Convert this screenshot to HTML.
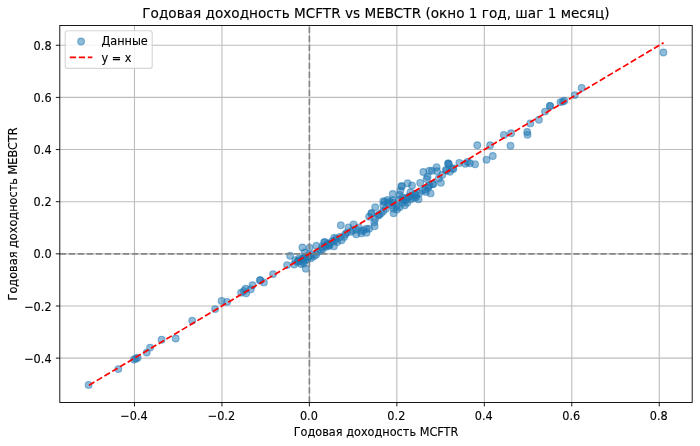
<!DOCTYPE html>
<html lang="ru"><head><meta charset="utf-8"><title>Годовая доходность MCFTR vs MEBCTR</title>
<style>html,body{margin:0;padding:0;background:#fff}svg{display:block}text{font-family:"DejaVu Sans","Liberation Sans",sans-serif;fill:#000;stroke:#000;stroke-width:0.12px}</style>
</head><body>
<svg width="700" height="446" viewBox="0 0 700 446">
<rect width="700" height="446" fill="#fff"/>
<clipPath id="ax"><rect x="59.8" y="25.45" width="632.4" height="377.0"/></clipPath>
<g stroke="#bcbcbc" stroke-width="1.1" fill="none">
<line x1="134.48" y1="25.45" x2="134.48" y2="402.45"/>
<line x1="221.94" y1="25.45" x2="221.94" y2="402.45"/>
<line x1="309.40" y1="25.45" x2="309.40" y2="402.45"/>
<line x1="396.86" y1="25.45" x2="396.86" y2="402.45"/>
<line x1="484.32" y1="25.45" x2="484.32" y2="402.45"/>
<line x1="571.78" y1="25.45" x2="571.78" y2="402.45"/>
<line x1="659.24" y1="25.45" x2="659.24" y2="402.45"/>
<line x1="59.8" y1="358.11" x2="692.2" y2="358.11"/>
<line x1="59.8" y1="305.97" x2="692.2" y2="305.97"/>
<line x1="59.8" y1="253.83" x2="692.2" y2="253.83"/>
<line x1="59.8" y1="201.69" x2="692.2" y2="201.69"/>
<line x1="59.8" y1="149.55" x2="692.2" y2="149.55"/>
<line x1="59.8" y1="97.41" x2="692.2" y2="97.41"/>
<line x1="59.8" y1="45.27" x2="692.2" y2="45.27"/>
</g>
<g clip-path="url(#ax)" fill="#1f77b4" fill-opacity="0.5" stroke="#1f77b4" stroke-opacity="0.5" stroke-width="1.13">
<circle cx="88.6" cy="384.9" r="3.39"/>
<circle cx="118.3" cy="369.1" r="3.39"/>
<circle cx="134.0" cy="359.5" r="3.39"/>
<circle cx="135.9" cy="358.7" r="3.39"/>
<circle cx="137.6" cy="357.7" r="3.39"/>
<circle cx="146.7" cy="352.6" r="3.39"/>
<circle cx="150.1" cy="347.6" r="3.39"/>
<circle cx="161.6" cy="339.7" r="3.39"/>
<circle cx="175.7" cy="338.5" r="3.39"/>
<circle cx="192.2" cy="320.6" r="3.39"/>
<circle cx="215.1" cy="309.1" r="3.39"/>
<circle cx="221.6" cy="300.9" r="3.39"/>
<circle cx="227.0" cy="301.9" r="3.39"/>
<circle cx="241.1" cy="292.7" r="3.39"/>
<circle cx="243.9" cy="291.0" r="3.39"/>
<circle cx="246.2" cy="293.2" r="3.39"/>
<circle cx="245.6" cy="288.7" r="3.39"/>
<circle cx="250.8" cy="289.2" r="3.39"/>
<circle cx="252.5" cy="285.2" r="3.39"/>
<circle cx="260.1" cy="280.2" r="3.39"/>
<circle cx="260.1" cy="280.2" r="3.39"/>
<circle cx="263.9" cy="282.4" r="3.39"/>
<circle cx="273.1" cy="274.1" r="3.39"/>
<circle cx="287.1" cy="265.1" r="3.39"/>
<circle cx="290.1" cy="255.8" r="3.39"/>
<circle cx="294.2" cy="264.5" r="3.39"/>
<circle cx="295.3" cy="260.1" r="3.39"/>
<circle cx="305.8" cy="268.7" r="3.39"/>
<circle cx="302.4" cy="247.5" r="3.39"/>
<circle cx="309.6" cy="247.8" r="3.39"/>
<circle cx="316.4" cy="245.8" r="3.39"/>
<circle cx="322.5" cy="249.3" r="3.39"/>
<circle cx="324.0" cy="242.5" r="3.39"/>
<circle cx="298.1" cy="261.2" r="3.39"/>
<circle cx="301.7" cy="259.8" r="3.39"/>
<circle cx="303.9" cy="263.4" r="3.39"/>
<circle cx="307.5" cy="259.1" r="3.39"/>
<circle cx="311.0" cy="258.2" r="3.39"/>
<circle cx="313.9" cy="256.2" r="3.39"/>
<circle cx="316.1" cy="254.7" r="3.39"/>
<circle cx="311.8" cy="254.7" r="3.39"/>
<circle cx="304.6" cy="252.5" r="3.39"/>
<circle cx="305.3" cy="256.9" r="3.39"/>
<circle cx="301.0" cy="264.1" r="3.39"/>
<circle cx="318.2" cy="251.8" r="3.39"/>
<circle cx="320.7" cy="250.3" r="3.39"/>
<circle cx="299.2" cy="258.4" r="3.39"/>
<circle cx="308.2" cy="255.3" r="3.39"/>
<circle cx="326.2" cy="246.8" r="3.39"/>
<circle cx="328.2" cy="244.3" r="3.39"/>
<circle cx="340.8" cy="225.3" r="3.39"/>
<circle cx="324.9" cy="242.0" r="3.39"/>
<circle cx="334.3" cy="237.8" r="3.39"/>
<circle cx="353.6" cy="224.4" r="3.39"/>
<circle cx="348.5" cy="227.4" r="3.39"/>
<circle cx="341.6" cy="240.3" r="3.39"/>
<circle cx="344.2" cy="236.9" r="3.39"/>
<circle cx="339.9" cy="236.9" r="3.39"/>
<circle cx="346.8" cy="232.7" r="3.39"/>
<circle cx="351.1" cy="231.8" r="3.39"/>
<circle cx="356.2" cy="234.3" r="3.39"/>
<circle cx="356.2" cy="229.7" r="3.39"/>
<circle cx="361.3" cy="230.9" r="3.39"/>
<circle cx="361.3" cy="233.4" r="3.39"/>
<circle cx="366.5" cy="232.7" r="3.39"/>
<circle cx="366.5" cy="228.8" r="3.39"/>
<circle cx="369.1" cy="228.8" r="3.39"/>
<circle cx="358.8" cy="227.4" r="3.39"/>
<circle cx="374.6" cy="226.2" r="3.39"/>
<circle cx="374.2" cy="222.3" r="3.39"/>
<circle cx="369.1" cy="216.8" r="3.39"/>
<circle cx="371.6" cy="212.9" r="3.39"/>
<circle cx="378.5" cy="215.4" r="3.39"/>
<circle cx="375.1" cy="218.9" r="3.39"/>
<circle cx="328.8" cy="245.4" r="3.39"/>
<circle cx="333.9" cy="246.3" r="3.39"/>
<circle cx="337.3" cy="242.0" r="3.39"/>
<circle cx="375.2" cy="207.3" r="3.39"/>
<circle cx="371.3" cy="213.8" r="3.39"/>
<circle cx="383.3" cy="201.3" r="3.39"/>
<circle cx="387.6" cy="200.0" r="3.39"/>
<circle cx="392.8" cy="194.0" r="3.39"/>
<circle cx="383.3" cy="205.2" r="3.39"/>
<circle cx="392.8" cy="202.7" r="3.39"/>
<circle cx="393.6" cy="208.7" r="3.39"/>
<circle cx="393.6" cy="213.3" r="3.39"/>
<circle cx="397.0" cy="209.4" r="3.39"/>
<circle cx="401.3" cy="186.3" r="3.39"/>
<circle cx="400.5" cy="190.7" r="3.39"/>
<circle cx="399.6" cy="194.9" r="3.39"/>
<circle cx="407.6" cy="183.3" r="3.39"/>
<circle cx="412.0" cy="185.4" r="3.39"/>
<circle cx="420.2" cy="182.9" r="3.39"/>
<circle cx="404.8" cy="205.2" r="3.39"/>
<circle cx="407.3" cy="202.7" r="3.39"/>
<circle cx="403.1" cy="200.0" r="3.39"/>
<circle cx="411.6" cy="195.8" r="3.39"/>
<circle cx="415.9" cy="197.4" r="3.39"/>
<circle cx="418.5" cy="199.2" r="3.39"/>
<circle cx="415.1" cy="194.0" r="3.39"/>
<circle cx="379.1" cy="214.7" r="3.39"/>
<circle cx="385.9" cy="208.7" r="3.39"/>
<circle cx="423.3" cy="172.0" r="3.39"/>
<circle cx="427.6" cy="176.8" r="3.39"/>
<circle cx="429.3" cy="170.8" r="3.39"/>
<circle cx="431.9" cy="170.8" r="3.39"/>
<circle cx="436.6" cy="167.3" r="3.39"/>
<circle cx="437.0" cy="171.2" r="3.39"/>
<circle cx="448.2" cy="163.4" r="3.39"/>
<circle cx="448.2" cy="163.4" r="3.39"/>
<circle cx="449.0" cy="164.3" r="3.39"/>
<circle cx="459.3" cy="162.9" r="3.39"/>
<circle cx="440.9" cy="182.8" r="3.39"/>
<circle cx="432.8" cy="184.0" r="3.39"/>
<circle cx="428.5" cy="186.2" r="3.39"/>
<circle cx="425.1" cy="189.7" r="3.39"/>
<circle cx="430.6" cy="193.4" r="3.39"/>
<circle cx="438.8" cy="178.4" r="3.39"/>
<circle cx="442.2" cy="175.0" r="3.39"/>
<circle cx="446.5" cy="170.8" r="3.39"/>
<circle cx="449.9" cy="171.7" r="3.39"/>
<circle cx="453.3" cy="169.0" r="3.39"/>
<circle cx="410.5" cy="192.2" r="3.39"/>
<circle cx="401.9" cy="186.2" r="3.39"/>
<circle cx="445.9" cy="170.0" r="3.39"/>
<circle cx="452.8" cy="168.3" r="3.39"/>
<circle cx="465.3" cy="163.8" r="3.39"/>
<circle cx="467.6" cy="162.0" r="3.39"/>
<circle cx="469.9" cy="163.2" r="3.39"/>
<circle cx="475.1" cy="164.3" r="3.39"/>
<circle cx="477.3" cy="145.2" r="3.39"/>
<circle cx="486.5" cy="159.8" r="3.39"/>
<circle cx="492.8" cy="156.0" r="3.39"/>
<circle cx="490.1" cy="145.2" r="3.39"/>
<circle cx="503.9" cy="134.9" r="3.39"/>
<circle cx="511.1" cy="133.2" r="3.39"/>
<circle cx="510.5" cy="145.8" r="3.39"/>
<circle cx="527.2" cy="132.0" r="3.39"/>
<circle cx="527.5" cy="134.8" r="3.39"/>
<circle cx="530.3" cy="123.4" r="3.39"/>
<circle cx="538.9" cy="119.8" r="3.39"/>
<circle cx="545.0" cy="111.6" r="3.39"/>
<circle cx="550.0" cy="105.9" r="3.39"/>
<circle cx="550.0" cy="105.9" r="3.39"/>
<circle cx="560.5" cy="102.1" r="3.39"/>
<circle cx="562.9" cy="101.6" r="3.39"/>
<circle cx="564.3" cy="100.8" r="3.39"/>
<circle cx="574.8" cy="95.1" r="3.39"/>
<circle cx="581.7" cy="87.9" r="3.39"/>
<circle cx="663.4" cy="52.5" r="3.39"/>
<circle cx="406.5" cy="197.8" r="3.39"/>
<circle cx="410.9" cy="199.2" r="3.39"/>
<circle cx="413.7" cy="197.8" r="3.39"/>
<circle cx="422.3" cy="190.5" r="3.39"/>
<circle cx="425.9" cy="191.9" r="3.39"/>
<circle cx="428.1" cy="187.7" r="3.39"/>
<circle cx="429.5" cy="185.5" r="3.39"/>
<circle cx="416.2" cy="195.3" r="3.39"/>
<circle cx="419.2" cy="193.3" r="3.39"/>
<circle cx="408.7" cy="196.8" r="3.39"/>
<circle cx="352.7" cy="230.3" r="3.39"/>
<circle cx="363.7" cy="230.3" r="3.39"/>
<circle cx="345.2" cy="234.3" r="3.39"/>
<circle cx="381.1" cy="213.3" r="3.39"/>
<circle cx="383.2" cy="211.2" r="3.39"/>
<circle cx="426.6" cy="179.0" r="3.39"/>
<circle cx="433.4" cy="184.0" r="3.39"/>
<circle cx="322.2" cy="246.8" r="3.39"/>
<circle cx="325.2" cy="245.8" r="3.39"/>
<circle cx="327.7" cy="243.8" r="3.39"/>
<circle cx="330.2" cy="243.3" r="3.39"/>
<circle cx="332.2" cy="241.3" r="3.39"/>
<circle cx="334.7" cy="240.8" r="3.39"/>
<circle cx="329.2" cy="245.8" r="3.39"/>
<circle cx="336.2" cy="238.8" r="3.39"/>
<circle cx="297.2" cy="261.9" r="3.39"/>
<circle cx="299.7" cy="260.4" r="3.39"/>
<circle cx="302.2" cy="258.9" r="3.39"/>
<circle cx="304.2" cy="257.9" r="3.39"/>
<circle cx="306.7" cy="256.9" r="3.39"/>
<circle cx="303.2" cy="261.4" r="3.39"/>
<circle cx="306.2" cy="259.9" r="3.39"/>
<circle cx="309.2" cy="256.4" r="3.39"/>
<circle cx="392.8" cy="200.2" r="3.39"/>
<circle cx="392.5" cy="205.5" r="3.39"/>
<circle cx="396.8" cy="206.2" r="3.39"/>
<circle cx="399.6" cy="207.3" r="3.39"/>
<circle cx="402.5" cy="202.7" r="3.39"/>
<circle cx="398.9" cy="199.8" r="3.39"/>
<circle cx="402.5" cy="197.8" r="3.39"/>
<circle cx="405.7" cy="200.3" r="3.39"/>
<circle cx="384.7" cy="201.8" r="3.39"/>
<circle cx="388.2" cy="203.3" r="3.39"/>
<circle cx="390.2" cy="201.8" r="3.39"/>
</g>
<g stroke="#808080" stroke-opacity="0.9" stroke-width="1.70" stroke-dasharray="6.29 2.72">
<line x1="59.8" y1="253.83" x2="692.2" y2="253.83"/>
<line x1="309.40" y1="402.45" x2="309.40" y2="25.45"/>
</g>
<line x1="89.00" y1="385.22" x2="663.61" y2="42.66" stroke="#ff0000" stroke-width="1.70" stroke-dasharray="6.29 2.72"/>
<rect x="59.8" y="25.45" width="632.4" height="377.0" fill="none" stroke="#000" stroke-width="0.90"/>
<g stroke="#000" stroke-width="0.90">
<line x1="134.48" y1="402.45" x2="134.48" y2="406.41"/>
<line x1="221.94" y1="402.45" x2="221.94" y2="406.41"/>
<line x1="309.40" y1="402.45" x2="309.40" y2="406.41"/>
<line x1="396.86" y1="402.45" x2="396.86" y2="406.41"/>
<line x1="484.32" y1="402.45" x2="484.32" y2="406.41"/>
<line x1="571.78" y1="402.45" x2="571.78" y2="406.41"/>
<line x1="659.24" y1="402.45" x2="659.24" y2="406.41"/>
<line x1="59.8" y1="358.11" x2="55.84" y2="358.11"/>
<line x1="59.8" y1="305.97" x2="55.84" y2="305.97"/>
<line x1="59.8" y1="253.83" x2="55.84" y2="253.83"/>
<line x1="59.8" y1="201.69" x2="55.84" y2="201.69"/>
<line x1="59.8" y1="149.55" x2="55.84" y2="149.55"/>
<line x1="59.8" y1="97.41" x2="55.84" y2="97.41"/>
<line x1="59.8" y1="45.27" x2="55.84" y2="45.27"/>
</g>
<g font-size="11.31" text-anchor="middle">
<text transform="translate(133.98 420) scale(1 1.11)">−0.4</text>
<text transform="translate(221.44 420) scale(1 1.11)">−0.2</text>
<text transform="translate(308.90 420) scale(1 1.11)">0.0</text>
<text transform="translate(396.36 420) scale(1 1.11)">0.2</text>
<text transform="translate(483.82 420) scale(1 1.11)">0.4</text>
<text transform="translate(571.28 420) scale(1 1.11)">0.6</text>
<text transform="translate(658.74 420) scale(1 1.11)">0.8</text>
</g>
<g font-size="11.31" text-anchor="end">
<text transform="translate(51.58 362.71) scale(1 1.11)">−0.4</text>
<text transform="translate(51.58 310.57) scale(1 1.11)">−0.2</text>
<text transform="translate(51.58 258.43) scale(1 1.11)">0.0</text>
<text transform="translate(51.58 206.29) scale(1 1.11)">0.2</text>
<text transform="translate(51.58 154.15) scale(1 1.11)">0.4</text>
<text transform="translate(51.58 102.01) scale(1 1.11)">0.6</text>
<text transform="translate(51.58 49.87) scale(1 1.11)">0.8</text>
</g>
<text transform="translate(376.00 435.55) scale(1 1.11)" font-size="11.31" text-anchor="middle">Годовая доходность MCFTR</text>
<text transform="translate(17.2 213.95) rotate(-90) scale(1 1.11)" font-size="11.31" text-anchor="middle">Годовая доходность MEBCTR</text>
<text transform="translate(375.90 18.3) scale(1 0.97)" font-size="13.63" text-anchor="middle" stroke="none">Годовая доходность MCFTR vs MEBCTR (окно 1 год, шаг 1 месяц)</text>
<rect x="65.2" y="30.7" width="87" height="37.7" rx="2.3" ry="2.3" fill="#fff" fill-opacity="0.8" stroke="#cccccc" stroke-opacity="0.8" stroke-width="1.13"/>
<circle cx="81.1" cy="41.5" r="3.39" fill="#1f77b4" fill-opacity="0.5" stroke="#1f77b4" stroke-opacity="0.5" stroke-width="1.13"/>
<line x1="69.8" y1="57.4" x2="92.4" y2="57.4" stroke="#ff0000" stroke-width="1.70" stroke-dasharray="6.29 2.72"/>
<text transform="translate(101.4 45.2) scale(1 1.11)" font-size="11.31">Данные</text>
<text transform="translate(101.4 61.7) scale(1 1.11)" font-size="11.31">y = x</text>
</svg></body></html>
